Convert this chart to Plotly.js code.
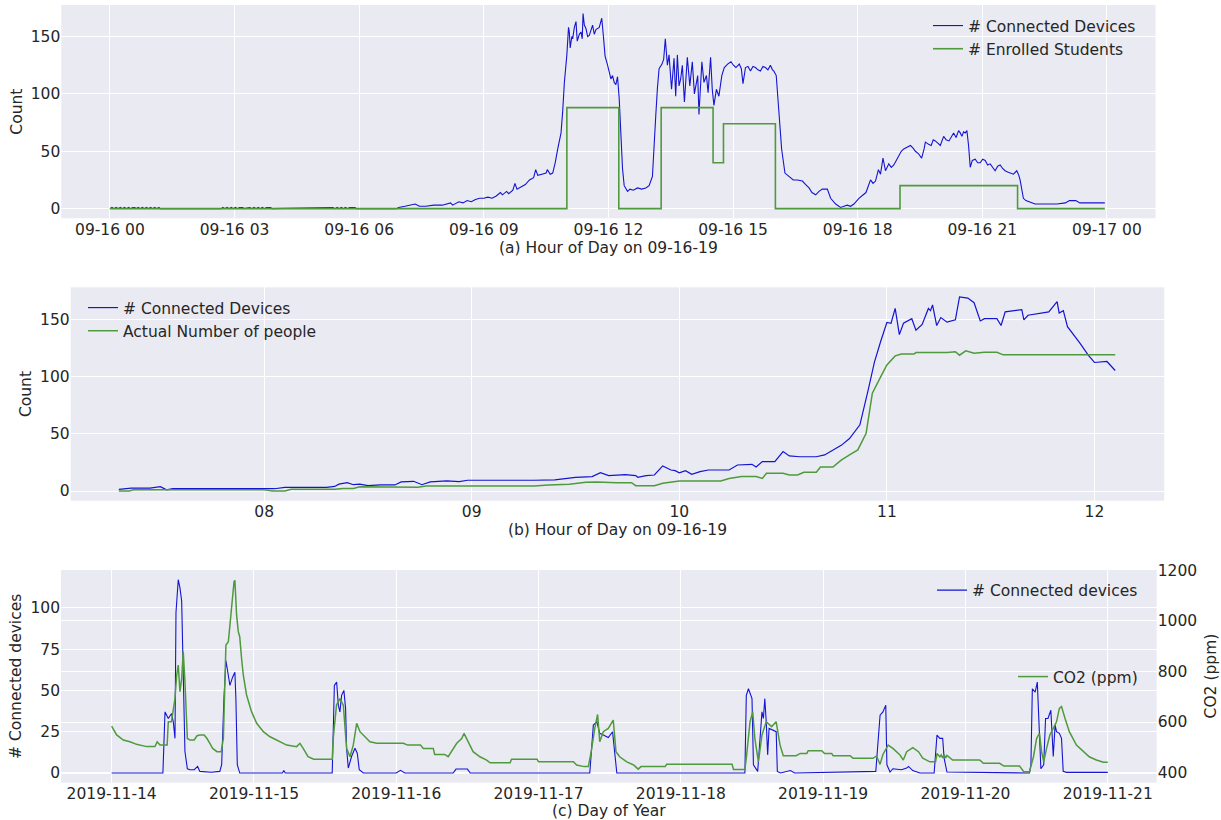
<!DOCTYPE html>
<html><head><meta charset="utf-8">
<script src="https://cdn.plot.ly/plotly-3.0.1.min.js"></script>
<style>html,body{margin:0;padding:0;background:#fff}#chart{width:1221px;height:820px}</style>
</head><body><div id="chart"></div><script>
// ---------- Panel (a): hour of day on 09-16-19 ----------
const aHours = [0,
 0.05,0.1,0.15,0.2,0.25,0.3,0.35,0.4,0.45,0.5,0.55,0.6,0.63,
 0.68,0.73,0.78,0.83,0.88,0.93,0.98,1.03,1.08,1.13,1.18,1.21,
 2.68,2.72,2.77,2.82,2.87,2.92,2.97,3.02,3.07,3.12,3.2,3.23,
 3.37,3.42,3.47,3.52,3.57,3.62,3.67,3.72,3.77,3.87,3.9,
 5.37,5.42,5.47,5.52,5.57,5.62,5.67,5.72,5.77,5.9,5.93,
 6.9,6.95,7.1,7.2,7.35,7.45,7.6,7.8,8.0,8.2,8.25,8.4,8.5,8.6,8.7,8.8,8.9,9.0,9.1,9.2,9.3,9.4,9.45,9.55,9.6,9.7,9.75,9.8,9.9,10.0,10.1,10.2,10.25,10.3,10.4,10.5,10.53,10.6,10.66,10.72,10.78,10.86,10.9,10.94,
 11.0,11.04,11.06,11.08,11.12,11.14,11.18,11.22,11.25,11.3,11.34,11.37,11.39,11.42,11.46,11.5,11.54,11.58,11.62,11.66,11.7,11.78,11.84,11.88,11.92,11.98,
 12.03,12.06,12.1,12.14,12.18,12.22,12.26,12.3,12.34,12.38,12.46,12.52,12.6,12.7,12.8,12.9,12.98,
 13.06,13.1,13.14,13.18,13.22,13.29,13.33,13.37,13.42,13.46,13.52,13.58,13.62,13.66,13.7,13.74,13.78,13.83,13.9,13.96,
 14.02,14.07,14.15,14.18,14.25,14.3,14.36,14.4,14.46,14.5,14.54,14.6,14.66,14.73,14.79,14.87,14.95,
 15.01,15.07,15.15,15.2,15.24,15.3,15.36,15.42,15.48,15.54,15.6,15.66,15.72,15.78,15.84,15.9,15.95,15.98,
 16.04,16.1,16.17,16.25,16.35,16.45,16.55,16.67,16.75,16.83,16.9,16.99,
 17.07,17.15,17.27,17.35,17.47,17.59,17.67,17.75,17.83,17.91,
 18.03,18.1,18.2,18.31,18.37,18.43,18.5,18.55,18.61,18.67,18.75,18.81,18.87,18.93,18.99,
 19.05,19.11,19.2,19.27,19.33,19.39,19.46,19.54,19.6,19.63,19.71,19.77,19.82,19.87,19.93,19.99,
 20.07,20.13,20.2,20.26,20.31,20.37,20.43,20.47,20.51,20.55,20.59,20.63,20.67,20.71,20.76,20.83,20.89,20.95,
 21.01,21.07,21.13,21.19,21.25,21.31,21.37,21.43,21.49,21.55,21.61,21.67,21.75,21.83,21.88,21.91,21.95,21.99,
 22.05,22.11,22.27,22.4,22.6,22.8,23.0,23.1,23.25,23.35,23.6,23.95];
const aDevices = [0,
 1,0,1,0,1,0,1,0,1,0,1,1,0,
 1,0,1,0,1,0,1,0,1,0,1,0,
 0,1,0,1,0,1,0,1,0,1,1,0,
 1,0,1,0,1,0,1,0,1,1,0,
 1,0,1,0,1,0,1,0,1,1,0,
 0,1,2,3,4,2,2,3,3,5,3,6,5,7,6,8,9,9,10,9,11,14,12,15,13,16,22,17,19,21,25,27,34,29,30,31,34,30,31,40,52,66,85,110,
 134,158,154,140,150,148,158,163,146,152,154,148,170,160,157,150,151,155,160,152,156,158,166,150,133,125,
 118,113,116,110,108,115,96,58,35,20,15,17,16,18,17,18,20,
 28,50,81,105,122,126,130,148,125,134,104,131,98,134,107,113,125,93,132,107,
 128,100,116,82,128,110,116,101,132,104,90,104,98,116,123,126,128,
 125,123,126,122,109,123,124,120,124,123,121,120,124,123,121,125,121,120,
 116,87,52,31,28,25,25,24,21,18,14,12,
 15,17,17,9,4,1,2,3,2,4,
 9,11,14,25,22,24,34,30,44,33,39,36,38,42,46,
 50,52,54,55,53,50,48,44,52,58,56,55,60,59,57,55,
 63,60,59,63,66,62,68,66,63,67,66,68,55,36,42,43,40,40,
 43,42,38,39,36,33,37,38,35,33,32,31,30,33,29,25,15,9,
 7,6,4,4,4,4,5,7,7,5,5,5];
const aStepHours = [0, 11.0, 12.25, 13.27, 14.52, 14.77, 16.02, 19.02, 21.85, 23.95];
const aEnrolled  = [0, 88, 0, 88, 40, 74, 0, 20, 0, 0];

// ---------- Panel (b): morning of 09-16-19 ----------
const bHours = [7.3,7.36,7.45,7.5,7.53,7.56,7.7,7.83,7.86,7.9,8.0,8.05,8.1,8.2,8.3,8.34,8.36,8.4,8.43,8.46,8.5,8.56,8.63,8.66,8.72,8.76,8.8,8.88,8.94,8.98,9.1,9.2,9.3,9.4,9.45,9.5,9.58,9.62,9.66,9.74,9.79,9.8,9.84,9.88,9.92,9.96,9.98,10.0,10.03,10.06,10.1,10.14,10.24,10.28,10.35,10.37,10.4,10.46,10.5,10.53,10.58,10.66,10.7,10.74,10.78,10.82,10.87,10.91,10.94,10.97,11.0,11.02,11.04,11.06,11.08,11.12,11.14,11.17,11.2,11.21,11.22,11.24,11.26,11.29,11.33,11.35,11.39,11.42,11.45,11.47,11.53,11.55,11.57,11.65,11.66,11.68,11.78,11.82,11.83,11.85,11.87,11.93,11.97,12.0,12.06,12.1];
const bDevices = [1.5,2.6,2.6,3.8,1,2,2,2,2.6,2,2,2,3.2,3.2,3.2,4,6,7.3,5.5,6,4.7,5.3,5.3,8,8.5,5.5,8,8.8,8.2,9.4,9.4,9,9.4,9.8,11,12,12.6,16,13.5,14.3,13.5,12,13.5,14,22,18.4,17.8,16,17.8,14.6,17,18.4,18.4,22.8,23.4,21,25.7,25.7,34.5,30.7,30,30,31.6,36,40,46,58,88.6,113,131,147.7,147,160,137,147,151,141,146,160,158,163,145,152,148,150,170,169,165,149,151,151,145,157,159,150,154,157,166,156,158,144,129.5,119,112.6,113.5,105.6];
const bPeopleHours = [7.3,7.35,7.37,7.5,7.9,8.0,8.04,8.1,8.13,8.34,8.38,8.43,8.46,8.7,8.74,8.78,9.3,9.37,9.47,9.55,9.6,9.7,9.77,9.79,9.88,9.92,10.0,10.2,10.24,10.3,10.37,10.4,10.42,10.5,10.53,10.57,10.6,10.66,10.68,10.74,10.78,10.82,10.86,10.9,10.93,10.97,11.0,11.04,11.07,11.13,11.14,11.29,11.33,11.35,11.38,11.42,11.47,11.53,11.56,12.1];
const bPeople = [0,0,1,1,1,1,0,0,1.5,1.5,2.3,2.3,3.8,3.8,3.2,4.4,4.4,5.3,6,7.6,7.9,7.3,7.3,4.7,4.7,6.7,8.8,8.8,11,12.6,12.6,11,15.5,15.5,14,14,16.4,16.4,21,21,27,31.6,36,50.6,85.7,100,110.5,118.4,120,120,121.3,121.3,122,119,122.8,120.8,121.6,121.6,119.3,119.3];

// ---------- Panel (c): days from 2019-11-14 ----------
const cDevDays = [0,0.36,0.375,0.398,0.421,0.433,0.445,0.452,0.468,0.48,0.492,0.503,0.515,0.532,0.55,0.58,0.604,0.62,0.7,0.76,0.773,0.789,0.803,0.82,0.831,0.85,0.866,0.873,0.883,0.9,1.2,1.21,1.22,1.55,1.565,1.581,1.593,1.604,1.616,1.632,1.644,1.651,1.663,1.686,1.71,1.726,1.74,1.769,2.0,2.03,2.06,2.4,2.42,2.5,2.52,3.36,3.385,3.41,3.43,3.455,3.49,3.52,3.54,3.55,4.45,4.46,4.475,4.486,4.5,4.51,4.54,4.56,4.57,4.58,4.59,4.6,4.61,4.62,4.65,4.67,4.678,4.7,4.77,4.8,5.37,5.4,5.42,5.44,5.448,5.47,5.49,5.55,5.587,5.6,5.63,5.68,5.78,5.79,5.8,5.82,5.84,5.85,5.87,6.45,6.46,6.47,6.49,6.505,6.52,6.53,6.55,6.563,6.58,6.6,6.617,6.63,6.64,6.66,6.675,6.687,6.71,7.0];
const cDevices = [0,0,37,33,36,31,21,97,117,112,104,65,13,2.6,2,2,4,1,0.5,1,5,45,68,59,53,58,61,45,5,0,0,1.5,0,0,53,55,41,37,47,50,39,15,3,10,15,12,2,0,0,1.6,0,0,2.4,2.4,0,0,29,31,24,23,21.5,25,8,0,0,47,51,48,45,5,1,25,37,33,45,31,11,27,26,25,1,0,1.5,0,1,35,37,41,5,0.6,2.6,2,3,4,1.5,0,0,13,23,21,21,9,0.6,0,5,51,49,55,17,2.6,5,33,33,38,10,29,25,24,21,1,0.4,0.4];
const cCo2Days = [0,0.035,0.082,0.129,0.175,0.246,0.304,0.32,0.34,0.39,0.398,0.42,0.445,0.457,0.468,0.48,0.492,0.503,0.515,0.532,0.55,0.58,0.6,0.62,0.65,0.67,0.69,0.71,0.74,0.77,0.785,0.803,0.82,0.83,0.843,0.86,0.866,0.878,0.89,0.9,0.913,0.925,0.948,0.983,1.019,1.066,1.113,1.16,1.23,1.3,1.323,1.346,1.38,1.42,1.55,1.557,1.58,1.604,1.628,1.651,1.675,1.698,1.722,1.745,1.78,1.815,1.863,2.05,2.08,2.17,2.19,2.26,2.27,2.34,2.365,2.425,2.46,2.476,2.506,2.54,2.588,2.635,2.66,2.8,2.81,2.99,3.0,3.245,3.268,3.32,3.35,3.37,3.395,3.415,3.43,3.455,3.49,3.525,3.544,3.57,3.62,3.67,3.7,3.72,3.89,3.9,4.36,4.37,4.45,4.46,4.486,4.505,4.52,4.545,4.57,4.6,4.638,4.67,4.697,4.72,4.81,4.84,4.885,4.895,4.99,5.01,5.06,5.07,5.19,5.21,5.35,5.375,5.4,5.42,5.457,5.49,5.54,5.563,5.587,5.63,5.67,5.7,5.75,5.79,5.8,5.82,5.83,5.84,5.85,5.86,5.87,5.89,5.91,6.1,6.126,6.24,6.27,6.38,6.41,6.45,6.478,6.5,6.52,6.535,6.55,6.57,6.593,6.617,6.64,6.66,6.675,6.7,6.73,6.78,6.827,6.87,6.92,6.97,7.0];
const cCo2 = [584,549,529,522,512,503,503,522,509,509,601,601,693,785,825,720,772,878,759,535,529,529,546,549,549,535,516,496,483,483,535,904,917,983,1075,1154,1160,1022,957,937,851,786,707,641,595,562,542,529,509,503,516,496,463,453,453,535,667,693,667,496,463,509,595,562,542,522,516,516,509,509,496,496,472,472,463,516,535,555,522,483,463,450,439,439,453,453,443,443,430,424,424,483,575,630,522,562,575,608,483,463,443,430,414,424,424,433,433,413,413,457,601,641,535,443,549,601,582,601,509,467,467,476,476,487,487,476,476,467,467,457,457,466,433,472,509,496,470,450,483,499,483,457,443,443,476,463,470,458,472,458,468,459,450,450,437,437,426,426,404,404,463,535,555,483,443,496,549,575,601,654,661,614,562,509,483,463,450,441,441];

// ---------- helpers ----------
const HOUR = 3600000, DAY = 86400000;
const dayA = Date.UTC(2019, 8, 16);
const dayC = Date.UTC(2019, 10, 14);
const hx = h => dayA + h * HOUR;
const dx = d => dayC + d * DAY;

const BLUE = '#1414d2', GREEN = '#4f9a3c';
const FONT = 'DejaVu Sans, sans-serif';
const TXT = '#262626';
const W = 1221, H = 820;
const px = v => v / W, py = v => 1 - v / H;

const traces = [
  {x: aHours.map(hx), y: aDevices, xaxis: 'x', yaxis: 'y', type: 'scatter', mode: 'lines',
   name: '# Connected Devices', line: {color: BLUE, width: 1.1}, legend: 'legend'},
  {x: aStepHours.map(hx), y: aEnrolled, xaxis: 'x', yaxis: 'y', type: 'scatter', mode: 'lines',
   name: '# Enrolled Students', line: {color: GREEN, width: 1.6, shape: 'hv'}, legend: 'legend'},
  {x: bHours.map(hx), y: bDevices, xaxis: 'x2', yaxis: 'y2', type: 'scatter', mode: 'lines',
   name: '# Connected Devices', line: {color: BLUE, width: 1.2}, legend: 'legend2'},
  {x: bPeopleHours.map(hx), y: bPeople, xaxis: 'x2', yaxis: 'y2', type: 'scatter', mode: 'lines',
   name: 'Actual Number of people', line: {color: GREEN, width: 1.5}, legend: 'legend2'},
  {x: cDevDays.map(dx), y: cDevices, xaxis: 'x3', yaxis: 'y3', type: 'scatter', mode: 'lines',
   name: '# Connected devices', line: {color: BLUE, width: 1.1}, legend: 'legend3'},
  {x: cCo2Days.map(dx), y: cCo2, xaxis: 'x3', yaxis: 'y4', type: 'scatter', mode: 'lines',
   name: 'CO2 (ppm)', line: {color: GREEN, width: 1.5}, legend: 'legend4'}
];

const tf = {family: FONT, size: 15.5, color: TXT};
const base = {showgrid: true, gridcolor: '#ffffff', gridwidth: 1, zeroline: false, showline: false,
  ticks: '', tickfont: tf, automargin: true};
const legendBase = {font: tf, bgcolor: 'rgba(0,0,0,0)', borderwidth: 0, xanchor: 'left', yanchor: 'top',
  itemclick: false, itemdoubleclick: false};

const layout = {
  width: W, height: H, margin: {l: 0, r: 0, t: 0, b: 0},
  paper_bgcolor: '#ffffff', plot_bgcolor: '#EAEAF2', hovermode: false,
  font: {family: FONT, color: TXT},
  xaxis: Object.assign({}, base, {domain: [px(61.3), px(1155.5)], anchor: 'y', type: 'date',
    range: [hx(-1.17), hx(25.17)], tickformat: '%m-%d %H', dtick: 3 * HOUR, tick0: hx(0),
    title: {text: '(a) Hour of Day on 09-16-19', font: tf, standoff: 0}}),
  yaxis: Object.assign({}, base, {domain: [py(218.3), py(5)], anchor: 'x',
    range: [-8.45, 177.5], dtick: 50, tick0: 0,
    title: {text: 'Count', font: tf, standoff: 4}}),
  xaxis2: Object.assign({}, base, {domain: [px(70.7), px(1164.2)], anchor: 'y2', type: 'date',
    range: [hx(7.068), hx(12.336)], tickformat: '%H', dtick: HOUR, tick0: hx(0),
    title: {text: '(b) Hour of Day on 09-16-19', font: tf, standoff: 0}}),
  yaxis2: Object.assign({}, base, {domain: [py(500.7), py(287.3)], anchor: 'x2',
    range: [-8.5, 178.5], dtick: 50, tick0: 0,
    title: {text: 'Count', font: tf, standoff: 4}}),
  xaxis3: Object.assign({}, base, {domain: [px(61), px(1156.7)], anchor: 'y3', type: 'date',
    range: [dx(-0.356), dx(7.344)], tickformat: '%Y-%m-%d', dtick: DAY, tick0: dx(0),
    title: {text: '(c) Day of Year', font: tf, standoff: 0}}),
  yaxis3: Object.assign({}, base, {domain: [py(782.7), py(570)], anchor: 'x3',
    range: [-5.85, 122.85], dtick: 25, tick0: 0,
    title: {text: '# Connected devices', font: tf, standoff: 4}}),
  yaxis4: Object.assign({}, base, {overlaying: 'y3', side: 'right', anchor: 'x3', automargin: false,
    range: [360.5, 1200.5], dtick: 200, tick0: 0}),
  annotations: [
    {text: 'CO2 (ppm)', xref: 'paper', yref: 'paper', x: px(1211), y: py(676.4),
     xanchor: 'center', yanchor: 'middle', textangle: -90, showarrow: false, font: tf}
  ],
  legend: Object.assign({}, legendBase, {x: px(928), y: py(9)}),
  legend2: Object.assign({}, legendBase, {x: px(83), y: py(291)}),
  legend3: Object.assign({}, legendBase, {x: px(932), y: py(573.5)}),
  legend4: Object.assign({}, legendBase, {x: px(1013), y: py(660)})
};

Plotly.newPlot('chart', traces, layout, {staticPlot: true, displayModeBar: false});
</script></body></html>
